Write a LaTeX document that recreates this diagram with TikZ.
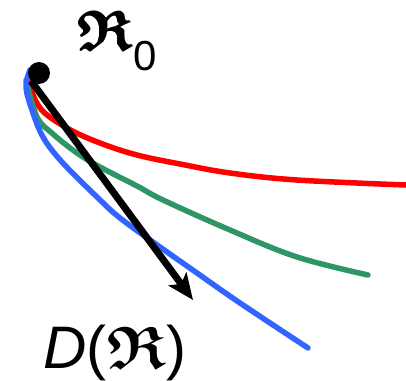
\documentclass[tikz,border=0pt]{standalone}
\usepackage{amsmath,amssymb}
\usepackage{fontspec}
\setmainfont{Liberation Sans}
\usetikzlibrary{arrows.meta}
\definecolor{cred}{RGB}{255,0,0}
\definecolor{cgreen}{RGB}{46,150,100}
\definecolor{cblue}{RGB}{50,100,255}
\newcommand{\heavyR}{\rlap{\kern1.2pt$\boldsymbol{\mathfrak{R}}$}\rlap{\raisebox{0.9pt}{\kern0.6pt$\boldsymbol{\mathfrak{R}}$}}$\boldsymbol{\mathfrak{R}}$\kern1.2pt}
\begin{document}
\begin{tikzpicture}[x=1pt,y=-1pt,
  curve/.style={line width=5.5pt,line cap=round,line join=round},
  arr/.style={line width=7pt,-{Stealth[length=26pt,width=22pt,inset=6pt]}}]
\useasboundingbox (0,0) rectangle (406,380);
\draw[curve,cred] plot[smooth,tension=0.6] coordinates {(28,80) (40,108) (67,128) (100,143) (137,155) (180,164) (230,173) (297,180) (406,185)};
\draw[curve,cgreen] plot[smooth,tension=0.6] coordinates {(26,80) (37,117) (53,134) (77,153) (100,167) (137,186) (163,200) (230,230) (297,257) (368,275)};
\draw[curve,cblue] plot[smooth,tension=0.6] coordinates {(30,70) (26,87) (32,110) (43,137) (62,162) (97,197) (120,218) (160,247) (197,273) (240,303) (308,348)};
\node[circle,fill=black,minimum size=22pt,inner sep=0pt] (dot) at (39,73) {};
\coordinate (tip) at (193,300);
\draw[arr] (dot.225) -- (tip);
\node[anchor=base west,inner sep=0pt] (r0) at (77,50) {\fontsize{56}{56}\selectfont\heavyR\raisebox{-20pt}{\fontsize{42}{42}\selectfont 0}};
\node[anchor=base west,inner sep=0pt] (dr) at (43,368) {\fontsize{60}{60}\selectfont\textit{D}(\kern1pt$\boldsymbol{\mathfrak{R}}$)};
\end{tikzpicture}
\end{document}
